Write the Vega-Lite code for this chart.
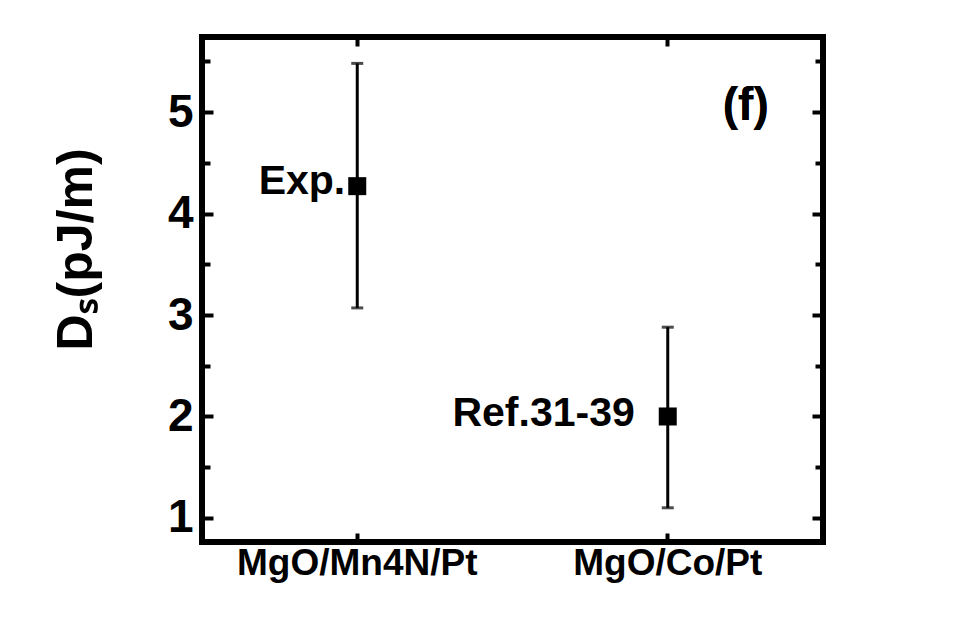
{
  "$schema": "https://vega.github.io/schema/vega-lite/v6.json",
  "width": 621,
  "height": 505,
  "autosize": {"type": "none"},
  "padding": {"left": 202, "top": 37, "right": 130, "bottom": 82},
  "background": "white",
  "config": {
    "view": {"stroke": "black", "strokeWidth": 6},
    "font": "Liberation Sans",
    "axis": {"domain": false, "grid": false, "tickColor": "black", "labelColor": "black", "titleColor": "black", "labelFont": "Liberation Sans", "labelFontWeight": "bold", "titleFont": "Liberation Sans", "titleFontWeight": "bold", "labelLimit": 0}
  },
  "data": {
    "values": [
      {"system": "MgO/Mn4N/Pt", "ds": 4.27, "lo": 3.07, "hi": 5.48, "label": "Exp."},
      {"system": "MgO/Co/Pt", "ds": 2.0, "lo": 1.1, "hi": 2.88, "label": "Ref.31-39"}
    ]
  },
  "resolve": {"axis": {"x": "independent", "y": "independent"}},
  "layer": [
    {
      "mark": {"type": "rule", "color": "black", "strokeWidth": 3},
      "encoding": {
        "x": {"field": "system", "type": "nominal", "sort": ["MgO/Mn4N/Pt", "MgO/Co/Pt"],
              "scale": {"type": "band", "paddingInner": 0, "paddingOuter": 0},
              "axis": {"orient": "bottom", "title": null, "labelAngle": 0, "labelFontSize": 37, "labelPadding": 12, "tickSize": -9, "tickWidth": 4}},
        "y": {"field": "lo", "type": "quantitative",
              "scale": {"domain": [0.763, 5.74], "nice": false, "zero": false},
              "axis": {"orient": "left", "title": "Dₛ(pJ/m)", "titleFontSize": 50, "titleX": -126, "titleY": 212, "titleAngle": -90, "titleAlign": "center", "titleBaseline": "middle",
                       "values": [1, 1.5, 2, 2.5, 3, 3.5, 4, 4.5, 5, 5.5],
                       "labelExpr": "datum.value % 1 === 0 ? format(datum.value, 'd') : ''",
                       "labelFontSize": 46, "labelPadding": 20, "tickWidth": 4,
                       "tickSize": {"condition": {"test": "datum.value % 1 === 0", "value": -11}, "value": -8}}},
        "y2": {"field": "hi"}
      }
    },
    {
      "mark": {"type": "tick", "color": "black", "size": 12, "thickness": 3},
      "encoding": {
        "x": {"field": "system", "type": "nominal", "sort": ["MgO/Mn4N/Pt", "MgO/Co/Pt"],
              "axis": {"orient": "top", "title": null, "labels": false, "tickSize": -9, "tickWidth": 4}},
        "y": {"field": "lo", "type": "quantitative",
              "axis": {"orient": "right", "title": null, "labels": false,
                       "values": [1, 1.5, 2, 2.5, 3, 3.5, 4, 4.5, 5, 5.5], "tickWidth": 4,
                       "tickSize": {"condition": {"test": "datum.value % 1 === 0", "value": -11}, "value": -8}}}
      }
    },
    {
      "mark": {"type": "tick", "color": "black", "size": 12, "thickness": 3},
      "encoding": {
        "x": {"field": "system", "type": "nominal", "sort": ["MgO/Mn4N/Pt", "MgO/Co/Pt"], "axis": null},
        "y": {"field": "hi", "type": "quantitative", "axis": null}
      }
    },
    {
      "mark": {"type": "point", "shape": "square", "filled": true, "color": "black", "size": 324, "opacity": 1},
      "encoding": {
        "x": {"field": "system", "type": "nominal", "sort": ["MgO/Mn4N/Pt", "MgO/Co/Pt"], "axis": null},
        "y": {"field": "ds", "type": "quantitative", "axis": null}
      }
    },
    {
      "transform": [{"filter": "datum.label === 'Exp.'"}],
      "mark": {"type": "text", "align": "right", "baseline": "alphabetic", "dx": -12, "dy": 8, "fontSize": 41, "fontWeight": "bold", "color": "black"},
      "encoding": {
        "x": {"field": "system", "type": "nominal", "sort": ["MgO/Mn4N/Pt", "MgO/Co/Pt"], "axis": null},
        "y": {"field": "ds", "type": "quantitative", "axis": null},
        "text": {"field": "label"}
      }
    },
    {
      "transform": [{"filter": "datum.label === 'Ref.31-39'"}],
      "mark": {"type": "text", "align": "right", "baseline": "alphabetic", "dx": -33, "dy": 10, "fontSize": 41, "fontWeight": "bold", "color": "black"},
      "encoding": {
        "x": {"field": "system", "type": "nominal", "sort": ["MgO/Mn4N/Pt", "MgO/Co/Pt"], "axis": null},
        "y": {"field": "ds", "type": "quantitative", "axis": null},
        "text": {"field": "label"}
      }
    },
    {
      "mark": {"type": "text", "align": "center", "baseline": "alphabetic", "dx": 78, "dy": 8, "fontSize": 46, "fontWeight": "bold", "color": "black", "text": "(f)"},
      "encoding": {
        "x": {"datum": "MgO/Co/Pt", "type": "nominal", "axis": null},
        "y": {"datum": 5, "type": "quantitative", "axis": null}
      }
    }
  ]
}
